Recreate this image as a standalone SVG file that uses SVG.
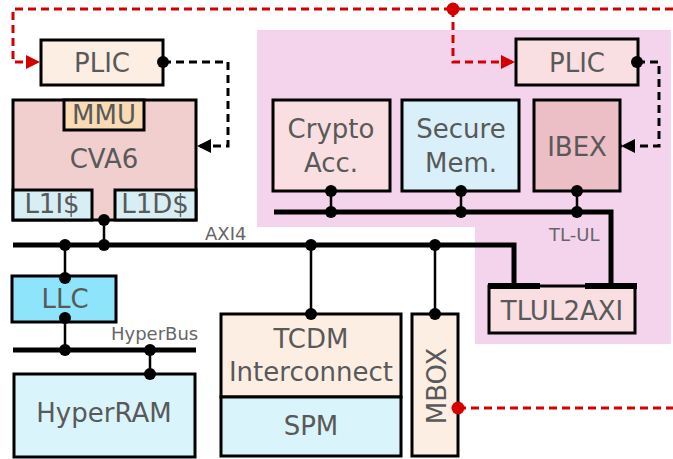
<svg xmlns="http://www.w3.org/2000/svg" width="673" height="459" viewBox="0 0 673 459">
<style>
.box{stroke:#000;stroke-width:3}
.t{font-family:"DejaVu Sans","Liberation Sans",sans-serif;font-size:26px;fill:#595959;text-anchor:middle}
.s{font-family:"DejaVu Sans","Liberation Sans",sans-serif;font-size:18px;fill:#666}
.bus{fill:none;stroke:#000;stroke-width:5}
.w{fill:none;stroke:#000;stroke-width:2.5}
.rd{fill:none;stroke:#d40000;stroke-width:3;stroke-dasharray:8 5}
.bd{fill:none;stroke:#000;stroke-width:3;stroke-dasharray:8 5}
</style>
<defs>
<marker id="ar" viewBox="0 0 14 14" markerWidth="14" markerHeight="14" markerUnits="userSpaceOnUse" refX="14" refY="7" orient="auto"><path d="M0,0 L14,7 L0,14 z" fill="#d40000"/></marker>
<marker id="ab" viewBox="0 0 14 14" markerWidth="14" markerHeight="14" markerUnits="userSpaceOnUse" refX="14" refY="7" orient="auto"><path d="M0,0 L14,7 L0,14 z" fill="#000"/></marker>
</defs>
<rect width="673" height="459" fill="#fff"/>
<polygon id="secure-domain" points="257,30 671,30 671,344 475,344 475,227 257,227" fill="#f4d4ec"/>

<g id="plic1"><rect class="box" x="41" y="40" width="122" height="45" fill="#fdeee4"/><text class="t" x="102" y="72">PLIC</text></g>
<g id="cva6"><rect class="box" x="13" y="100" width="183" height="120" fill="#f1cfcf"/><text class="t" x="104" y="168">CVA6</text></g>
<g id="mmu"><rect class="box" x="64" y="100" width="80" height="30" fill="#f9dcb4"/><text class="t" x="104" y="124">MMU</text></g>
<g id="l1i"><rect class="box" x="13" y="190" width="79" height="30" fill="#d7eef4"/><text class="t" x="52" y="213">L1I$</text></g>
<g id="l1d"><rect class="box" x="115" y="190" width="81" height="30" fill="#d7eef4"/><text class="t" x="155" y="213">L1D$</text></g>
<g id="llc"><rect class="box" x="12" y="276" width="104" height="46" fill="#8ee4fa"/><text class="t" x="65" y="308">LLC</text></g>
<g id="hyperram"><rect class="box" x="14" y="374" width="181" height="83" fill="#daf4fb"/><text class="t" x="104" y="422">HyperRAM</text></g>
<g id="tcdm"><rect class="box" x="221" y="314" width="180" height="83" fill="#fdeee4"/><text class="t" x="311" y="348">TCDM</text><text class="t" x="311" y="381">Interconnect</text></g>
<g id="spm"><rect class="box" x="221" y="397" width="180" height="59" fill="#daf4fb"/><text class="t" x="311" y="435">SPM</text></g>
<g id="mbox"><rect class="box" x="412" y="314" width="46" height="142" fill="#fdeee4"/><text class="t" transform="translate(446,386) rotate(-90)">MBOX</text></g>
<g id="crypto"><rect class="box" x="273" y="100" width="117" height="91" fill="#f9dfe1"/><text class="t" x="331" y="138">Crypto</text><text class="t" x="331" y="172">Acc.</text></g>
<g id="securemem"><rect class="box" x="402" y="100" width="117" height="91" fill="#d9f0fb"/><text class="t" x="461" y="138">Secure</text><text class="t" x="461" y="172">Mem.</text></g>
<g id="ibex"><rect class="box" x="534" y="100" width="86" height="91" fill="#ecbec6"/><text class="t" x="577" y="156">IBEX</text></g>
<g id="plic2"><rect class="box" x="516" y="39" width="122" height="46" fill="#f9dfe1"/><text class="t" x="577" y="72">PLIC</text></g>
<g id="tlul2axi"><rect class="box" x="489" y="286" width="146" height="47" fill="#f9dfe1"/><text class="t" x="562" y="320">TLUL2AXI</text><path d="M488,286 H540 M585,286 H637" stroke="#000" stroke-width="6"/></g>

<g id="connectors">
<path class="bus" d="M13,245 H514 V286"/>
<path class="bus" d="M274,212 H611 V286"/>
<path class="bus" d="M13,350 H196"/>
<path class="w" d="M104,220 V245 M65,245 V278 M65,318 V350 M150,350 V374 M311,245 V314 M435,245 V314 M331,191 V212 M461,191 V212 M577,191 V212"/>
<g fill="#000">
<circle cx="104" cy="220" r="6"/><circle cx="104" cy="245" r="6"/><circle cx="65" cy="245" r="6"/>
<circle cx="311" cy="245" r="6"/><circle cx="435" cy="245" r="6"/>
<circle cx="65" cy="278" r="6"/><circle cx="65" cy="318" r="6"/><circle cx="65" cy="350" r="6"/>
<circle cx="150" cy="350" r="6"/><circle cx="150" cy="374" r="6"/>
<circle cx="311" cy="314" r="6"/><circle cx="435" cy="314" r="6"/>
<circle cx="331" cy="191" r="6"/><circle cx="331" cy="212" r="6"/>
<circle cx="461" cy="191" r="6"/><circle cx="461" cy="212" r="6"/>
<circle cx="577" cy="191" r="6"/><circle cx="577" cy="212" r="6"/>
<circle cx="163" cy="62" r="6"/><circle cx="637" cy="62" r="6"/>
</g>
<path class="bd" d="M163,62 H228 V146 H197" marker-end="url(#ab)"/>
<path class="bd" d="M637,62 H659 V146 H621" marker-end="url(#ab)"/>
<path class="rd" d="M673,9 H13 V62 H40" marker-end="url(#ar)"/>
<path class="rd" d="M453,9 V62 H515" marker-end="url(#ar)"/>
<path class="rd" d="M458,408 H673"/>
<circle cx="453" cy="9" r="6.5" fill="#d40000"/>
<circle cx="458" cy="408" r="6.5" fill="#d40000"/>
</g>
<text class="s" x="205" y="240">AXI4</text>
<text class="s" x="111" y="340">HyperBus</text>
<text class="s" x="549" y="241">TL-UL</text>
</svg>
